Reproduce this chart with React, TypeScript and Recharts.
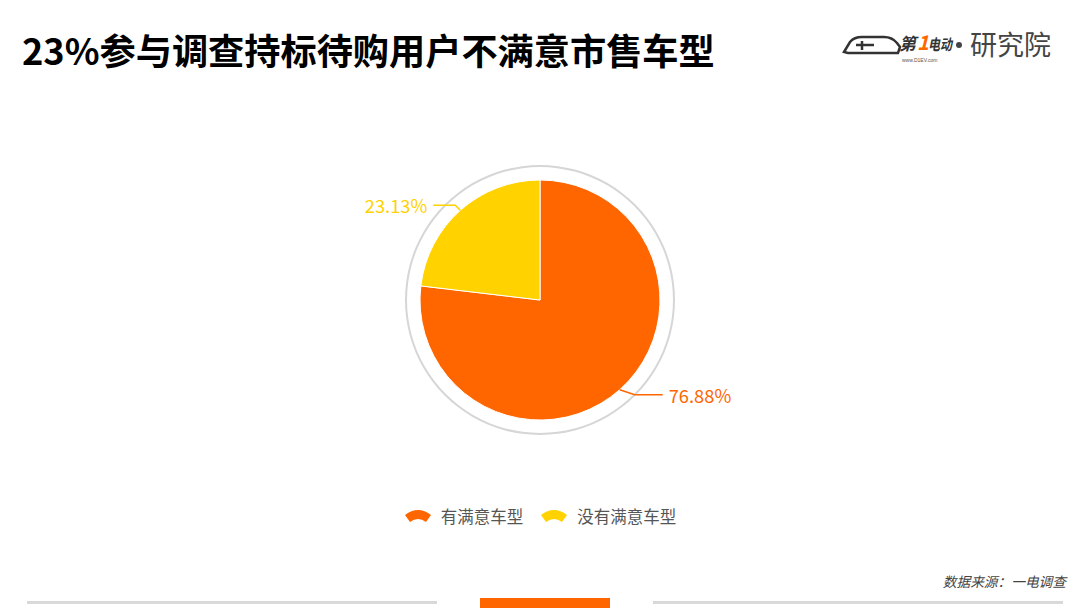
import { PieChart, Pie, Cell } from 'recharts';

const categories = ['有满意车型', '没有满意车型'];
const shares = [76.88, 23.13];
const sliceColors = ['#FF6600', '#FFD200'];
const ringData = [{ name: 'ring', value: 1 }];

const FONT = '"Noto Sans CJK SC", "Noto Sans", sans-serif';
const RAD = Math.PI / 180;

const chartData = categories.map((name, i) => ({
  name,
  value: shares[i],
  fill: sliceColors[i],
}));

// label line geometry: right side leaves longer than left side, like the original
function linePoints(props: any) {
  const { cx, cy, midAngle, outerRadius } = props;
  const cos = Math.cos(-midAngle * RAD);
  const sin = Math.sin(-midAngle * RAD);
  const right = cos >= 0;
  const sx = cx + outerRadius * cos;
  const sy = cy + outerRadius * sin;
  const mx = sx + (right ? 15 : -5);
  const my = sy + (sin >= 0 ? 5 : -5);
  const ex = mx + (right ? 28 : -22);
  return { sx, sy, mx, my, ex, right };
}

function renderLabel(props: any) {
  const { value, index } = props;
  const { my, ex, right } = linePoints(props);
  return (
    <text
      x={ex + (right ? 6 : -6)}
      y={my}
      fill={sliceColors[index]}
      fontSize={18.3}
      fontFamily={FONT}
      textAnchor={right ? 'start' : 'end'}
      dominantBaseline="central"
    >
      {Number(value).toFixed(2)}%
    </text>
  );
}

function renderLabelLine(props: any) {
  const { index } = props;
  const { sx, sy, mx, my, ex } = linePoints(props);
  return (
    <path
      d={`M${sx},${sy}L${mx},${my}L${ex},${my}`}
      stroke={sliceColors[index]}
      strokeWidth={1.5}
      fill="none"
    />
  );
}

function WedgeLegend() {
  return (
    <div
      style={{
        position: 'absolute',
        left: 0,
        top: 504,
        width: 1080,
        display: 'flex',
        justifyContent: 'center',
        gap: 17,
        fontFamily: FONT,
      }}
    >
      {categories.map((name, i) => (
        <div key={name} style={{ display: 'flex', alignItems: 'center', gap: 9 }}>
          <svg width={28} height={14}>
            <path d="M1,6 Q14,-4 27,6 L22,13 Q14,7 6,13 Z" fill={sliceColors[i]} />
          </svg>
          <span style={{ fontSize: 16.5, color: '#555' }}>{name}</span>
        </div>
      ))}
    </div>
  );
}

function Logo() {
  return (
    <svg width={230} height={42} style={{ position: 'absolute', left: 840, top: 24 }}>
      <path
        d="M4,28 L10,18 Q14,13 22,13 L44,13 Q52,13 57,19 L60,23 L58,29 L8,29 Z"
        fill="none"
        stroke="#333"
        strokeWidth={2.5}
      />
      <path d="M16,21 L34,21 M22,17 L22,26" stroke="#333" strokeWidth={2.5} />
      <text x={59} y={26} fontFamily={FONT} fontSize={17} fontWeight={700} fontStyle="italic" fill="#333">
        第
      </text>
      <text x={77} y={26} fontFamily={FONT} fontSize={20} fontWeight={700} fontStyle="italic" fill="#FF6600">
        1
      </text>
      <text
        x={88}
        y={26}
        fontFamily={FONT}
        fontSize={15}
        fontWeight={700}
        fontStyle="italic"
        fill="#333"
        textLength={24}
        lengthAdjust="spacingAndGlyphs"
      >
        电动
      </text>
      <text x={62} y={38} fontFamily="Arial, sans-serif" fontSize={5} fill="#555">www.D1EV.com</text>
      <circle cx={119} cy={21} r={3} fill="#444" />
      <text x={130} y={31} fontFamily={FONT} fontSize={27} fill="#444">研究院</text>
    </svg>
  );
}

export default function App() {
  return (
    <div
      style={{
        position: 'absolute',
        left: 0,
        top: 0,
        width: 1080,
        height: 608,
        background: '#fff',
        overflow: 'hidden',
        fontFamily: FONT,
      }}
    >
      <div
        style={{
          position: 'absolute',
          left: 22,
          top: 23,
          fontSize: 36.2,
          fontWeight: 700,
          color: '#000',
          lineHeight: '52px',
          whiteSpace: 'nowrap',
        }}
      >
        23%参与调查持标待购用户不满意市售车型
      </div>
      <Logo />
      <div style={{ position: 'absolute', left: 0, top: 0 }}>
        <PieChart width={1080} height={608} margin={{ top: 0, right: 0, bottom: 0, left: 0 }}>
          <Pie
            data={ringData}
            dataKey="value"
            cx={540}
            cy={300}
            innerRadius={133}
            outerRadius={135}
            fill="#D6D6D6"
            stroke="none"
            isAnimationActive={false}
            legendType="none"
          />
          <Pie
            data={chartData}
            dataKey="value"
            nameKey="name"
            cx={540}
            cy={300}
            outerRadius={120}
            startAngle={90}
            endAngle={-270}
            stroke="#fff"
            strokeWidth={1}
            label={renderLabel}
            labelLine={renderLabelLine}
            isAnimationActive={false}
          >
            {chartData.map((entry, i) => (
              <Cell key={`cell-${i}`} fill={entry.fill} />
            ))}
          </Pie>
        </PieChart>
      </div>
      <WedgeLegend />
      <div
        style={{
          position: 'absolute',
          right: 14,
          top: 571,
          fontSize: 13.7,
          fontStyle: 'italic',
          fontWeight: 400,
          color: '#444',
        }}
      >
        数据来源：一电调查
      </div>
      <div style={{ position: 'absolute', left: 27, top: 601, width: 410, height: 3, background: '#D9D9D9' }} />
      <div style={{ position: 'absolute', left: 653, top: 601, width: 410, height: 3, background: '#D9D9D9' }} />
      <div style={{ position: 'absolute', left: 480, top: 598, width: 130, height: 10, background: '#FF6600' }} />
    </div>
  );
}
